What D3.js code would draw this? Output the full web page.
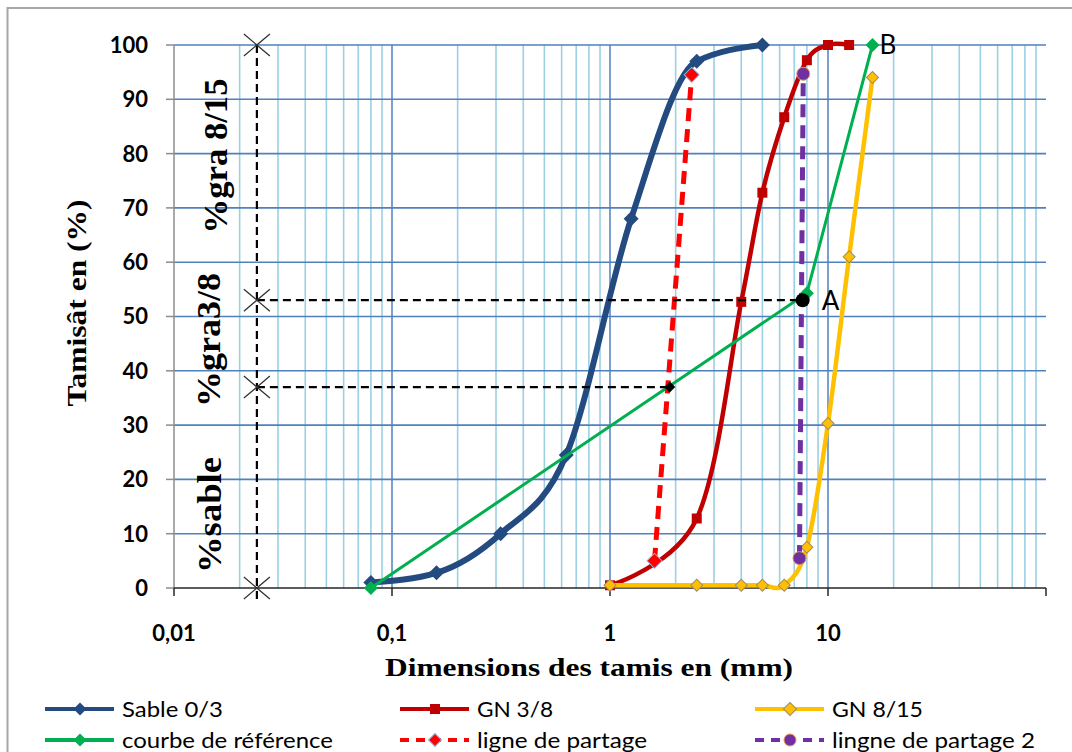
<!DOCTYPE html>
<html lang="fr">
<head>
<meta charset="utf-8">
<style>
  body { margin: 0; background: #fff; }
  svg { display: block; }
  .tick-label { font-family: Lato, "Open Sans", sans-serif; font-weight: bold; font-size: 22px; fill: #000; }
  .legend-text { font-family: Lato, "Open Sans", sans-serif; font-size: 22px; fill: #000; }
  .serif-title { font-family: "Liberation Serif", "DejaVu Serif", serif; font-weight: bold; fill: #000; }
</style>
</head>
<body>
<svg id="chart" width="1072" height="752"></svg>
<script src="https://d3js.org/d3.v7.min.js"></script>
<script>
// ---- data ----
var sableX = [0.08, 0.16, 0.315, 0.63, 1.25, 2.5, 5];
var sableY = [1, 2.8, 10, 24.5, 68, 97, 100];

var gn38X = [1, 2.5, 4, 5, 6.3, 8, 10, 12.5];
var gn38Y = [0.5, 12.8, 52.7, 72.8, 86.7, 97.2, 100, 100];

var gn815X = [1, 2.5, 4, 5, 6.3, 8, 10, 12.5, 16];
var gn815Y = [0.5, 0.5, 0.5, 0.5, 0.5, 7.5, 30.3, 61, 94];

var refX = [0.08, 8, 16];
var refY = [0, 54.3, 100];

var partageX = [1.6, 2.37];
var partageY = [5, 94.5];

var partage2X = [7.4, 7.7];
var partage2Y = [5.5, 94.7];

// construction lines
var guideX = 0.024;
var guideMarks = [100, 53, 37, 0];
var guideBottom = -2.8;
var pointA = [7.65, 53];
var pointC = [1.88, 37];

var xLabels = [0.01, 0.1, 1, 10];
var yTicks = [0, 10, 20, 30, 40, 50, 60, 70, 80, 90, 100];

var zoneLabels = ["%gra 8/15", "%gra3/8", "%sable"];

// ---- setup ----
var svg = d3.select("#chart");
var plotL = 174, plotR = 1046, plotT = 45, plotB = 588;

var x = d3.scaleLog().domain([0.01, 100]).range([plotL, plotR]);
var y = d3.scaleLinear().domain([0, 100]).range([plotB, plotT]);

function pts(xs, ys) { return xs.map(function(v, i) { return [v, ys[i]]; }); }

// chart border
svg.append("rect")
  .attr("x", 7.5).attr("y", 8)
  .attr("width", 1120).attr("height", 800)
  .attr("fill", "none").attr("stroke", "#a6a6a6").attr("stroke-width", 2);

// ---- gridlines ----
var grid = svg.append("g");
var allTicks = x.ticks().filter(function(t) { return t > 0.0101 && t < 99; });
grid.selectAll("line.v").data(allTicks).enter().append("line")
  .attr("x1", function(d) { return x(d); }).attr("x2", function(d) { return x(d); })
  .attr("y1", plotT).attr("y2", plotB)
  .attr("stroke", function(d) {
    var l = Math.log10(d);
    return Math.abs(l - Math.round(l)) < 1e-6 ? "#5b87c5" : "#9dd0e2";
  })
  .attr("stroke-width", 1.6);

grid.selectAll("line.h").data(yTicks.filter(function(d) { return d > 0; })).enter().append("line")
  .attr("x1", plotL).attr("x2", plotR)
  .attr("y1", function(d) { return y(d); }).attr("y2", function(d) { return y(d); })
  .attr("stroke", "#4f81bd").attr("stroke-width", 1.6);

// ---- axes ----
svg.append("line").attr("x1", plotL).attr("x2", plotL).attr("y1", plotT).attr("y2", plotB)
  .attr("stroke", "#8c8c8c").attr("stroke-width", 1.5);
svg.selectAll("line.yt").data(yTicks).enter().append("line")
  .attr("x1", plotL - 8).attr("x2", plotL)
  .attr("y1", function(d) { return y(d); }).attr("y2", function(d) { return y(d); })
  .attr("stroke", "#8c8c8c").attr("stroke-width", 1.5);
svg.selectAll("text.yl").data(yTicks).enter().append("text")
  .attr("class", "tick-label")
  .attr("x", 148).attr("y", function(d) { return y(d); })
  .attr("dy", "0.36em").attr("text-anchor", "end")
  .text(function(d) { return d; });

svg.append("line").attr("x1", plotL).attr("x2", plotR).attr("y1", plotB).attr("y2", plotB)
  .attr("stroke", "#262626").attr("stroke-width", 1.6);
svg.selectAll("line.xt").data([0.01, 0.1, 1, 10, 100]).enter().append("line")
  .attr("x1", function(d) { return x(d); }).attr("x2", function(d) { return x(d); })
  .attr("y1", plotB).attr("y2", plotB + 8)
  .attr("stroke", "#262626").attr("stroke-width", 1.5);
svg.selectAll("text.xl").data(xLabels).enter().append("text")
  .attr("class", "tick-label")
  .attr("x", function(d) { return x(d); }).attr("y", 633)
  .attr("dy", "0.36em").attr("text-anchor", "middle")
  .text(function(d) { return String(d).replace(".", ","); });

// axis titles
svg.append("text").attr("class", "serif-title")
  .attr("x", 589).attr("y", 667).attr("dy", "0.35em")
  .attr("text-anchor", "middle").style("font-size", "25px")
  .attr("textLength", 408).attr("lengthAdjust", "spacingAndGlyphs")
  .text("Dimensions des tamis en (mm)");

svg.append("text").attr("class", "serif-title")
  .attr("transform", "translate(77,303) rotate(-90)").attr("dy", "0.35em")
  .attr("text-anchor", "middle").style("font-size", "27px")
  .attr("textLength", 207).attr("lengthAdjust", "spacingAndGlyphs")
  .text("Tamisât en (%)");

// zone labels
var zonePos = [[215, 156, 155], [208, 340, 134], [209, 515, 116]];
zoneLabels.forEach(function(t, i) {
  svg.append("text").attr("class", "serif-title")
    .attr("transform", "translate(" + zonePos[i][0] + "," + zonePos[i][1] + ") rotate(-90)")
    .attr("dy", "0.35em").attr("text-anchor", "middle").style("font-size", "34px")
    .attr("textLength", zonePos[i][2]).attr("lengthAdjust", "spacingAndGlyphs")
    .text(t);
});

// ---- series ----
function lineGen(curve) {
  var l = d3.line().x(function(d) { return x(d[0]); }).y(function(d) { return y(d[1]); });
  return curve ? l.curve(curve) : l;
}

var diamond = d3.symbol().type(d3.symbolSquare);
function diamondPath(diag) { return diamond.size(diag * diag / 2)(); }
function squarePath(side) { return diamond.size(side * side)(); }

function drawSeries(data, opt) {
  var g = svg.append("g");
  g.append("path").datum(data)
    .attr("d", lineGen(opt.curve))
    .attr("fill", "none").attr("stroke", opt.color).attr("stroke-width", opt.width)
    .attr("stroke-dasharray", opt.dash || null)
    .attr("stroke-linejoin", "round");
  var m = g.selectAll("path.m").data(data).enter().append("path")
    .attr("fill", opt.fill || opt.color)
    .attr("stroke", opt.mstroke || "none").attr("stroke-width", 1);
  if (opt.marker === "diamond") {
    m.attr("d", diamondPath(opt.msize))
      .attr("transform", function(d) { return "translate(" + x(d[0]) + "," + y(d[1]) + ") rotate(45)"; });
  } else if (opt.marker === "square") {
    m.attr("d", squarePath(opt.msize))
      .attr("transform", function(d) { return "translate(" + x(d[0]) + "," + y(d[1]) + ")"; });
  } else {
    m.attr("d", d3.symbol().type(d3.symbolCircle).size(Math.PI * opt.msize * opt.msize)())
      .attr("transform", function(d) { return "translate(" + x(d[0]) + "," + y(d[1]) + ")"; });
  }
}

var excelSmooth = d3.curveCardinal.tension(0);
var styles = {
  sable: { color: "#234b80", width: 6, marker: "diamond", msize: 15, curve: d3.curveMonotoneX },
  gn38: { color: "#c00000", width: 4.5, marker: "square", msize: 10, curve: excelSmooth },
  gn815: { color: "#ffc000", width: 4.5, marker: "diamond", msize: 12, curve: excelSmooth, mstroke: "#a08a6c" },
  ref: { color: "#00b050", width: 3, marker: "diamond", msize: 14 },
  partage: { color: "#ff0000", width: 5, marker: "diamond", msize: 15, dash: "13,8", mstroke: "#8fb3df" },
  partage2: { color: "#7030a0", width: 5, marker: "circle", msize: 6.5, dash: "13,8", mstroke: "#e39a55" }
};

drawSeries(pts(sableX, sableY), styles.sable);
drawSeries(pts(gn38X, gn38Y), styles.gn38);
drawSeries(pts(gn815X, gn815Y), styles.gn815);
drawSeries(pts(refX, refY), styles.ref);
drawSeries(pts(partageX, partageY), styles.partage);
drawSeries(pts(partage2X, partage2Y), styles.partage2);

// ---- construction lines ----
var guides = svg.append("g").attr("stroke", "#000").attr("stroke-width", 2.2)
  .attr("stroke-dasharray", "8,5").attr("fill", "none");
guides.append("line")
  .attr("x1", x(guideX)).attr("x2", x(guideX))
  .attr("y1", y(guideMarks[0])).attr("y2", y(guideBottom));
guides.append("line")
  .attr("x1", x(guideX)).attr("x2", x(pointA[0]))
  .attr("y1", y(pointA[1])).attr("y2", y(pointA[1]));
guides.append("line")
  .attr("x1", x(guideX)).attr("x2", x(pointC[0]))
  .attr("y1", y(pointC[1])).attr("y2", y(pointC[1]));

svg.selectAll("path.xmark").data(guideMarks).enter().append("path")
  .attr("d", "M-13,-11L13,11M-13,11L13,-11")
  .attr("transform", function(d) { return "translate(" + x(guideX) + "," + y(d) + ")"; })
  .attr("stroke", "#333").attr("stroke-width", 1.3).attr("fill", "none");

svg.append("circle").attr("cx", x(pointA[0])).attr("cy", y(pointA[1])).attr("r", 7).attr("fill", "#000");
svg.append("path").attr("d", diamondPath(11))
  .attr("transform", "translate(" + x(pointC[0]) + "," + y(pointC[1]) + ") rotate(45)")
  .attr("fill", "#000");

svg.append("text").attr("class", "legend-text").style("font-size", "26px")
  .attr("x", x(pointA[0]) + 19).attr("y", y(pointA[1]) + 10).text("A");
svg.append("text").attr("class", "legend-text").style("font-size", "26px")
  .attr("x", x(refX[2]) + 7).attr("y", y(100) + 9).text("B");

// ---- legend ----
var legendItems = [
  { key: "sable", label: "Sable 0/3", col: 0, row: 0, w: 101 },
  { key: "gn38", label: "GN 3/8", col: 1, row: 0, w: 76 },
  { key: "gn815", label: "GN 8/15", col: 2, row: 0, w: 91 },
  { key: "ref", label: "courbe de référence", col: 0, row: 1, w: 211 },
  { key: "partage", label: "ligne de partage", col: 1, row: 1, w: 170 },
  { key: "partage2", label: "lingne de partage 2", col: 2, row: 1, w: 203 }
];
var colX = [45, 400, 755], rowY = [709, 740];
legendItems.forEach(function(it) {
  var s = styles[it.key];
  var x0 = colX[it.col], yy = rowY[it.row];
  var g = svg.append("g");
  g.append("line").attr("x1", x0).attr("x2", x0 + 69).attr("y1", yy).attr("y2", yy)
    .attr("stroke", s.color).attr("stroke-width", 4)
    .attr("stroke-dasharray", s.dash ? "9,7" : null);
  var m = g.append("path").attr("fill", s.color)
    .attr("stroke", s.mstroke || "none").attr("stroke-width", 1);
  if (s.marker === "diamond") {
    m.attr("d", diamondPath(13)).attr("transform", "translate(" + (x0 + 35) + "," + yy + ") rotate(45)");
  } else if (s.marker === "square") {
    m.attr("d", squarePath(10)).attr("transform", "translate(" + (x0 + 35) + "," + yy + ")");
  } else {
    m.attr("d", d3.symbol().type(d3.symbolCircle).size(Math.PI * 36)())
      .attr("transform", "translate(" + (x0 + 35) + "," + yy + ")");
  }
  g.append("text").attr("class", "legend-text")
    .attr("x", x0 + 77).attr("y", yy).attr("dy", "0.35em")
    .attr("textLength", it.w).attr("lengthAdjust", "spacingAndGlyphs")
    .text(it.label);
});
</script>
</body>
</html>
